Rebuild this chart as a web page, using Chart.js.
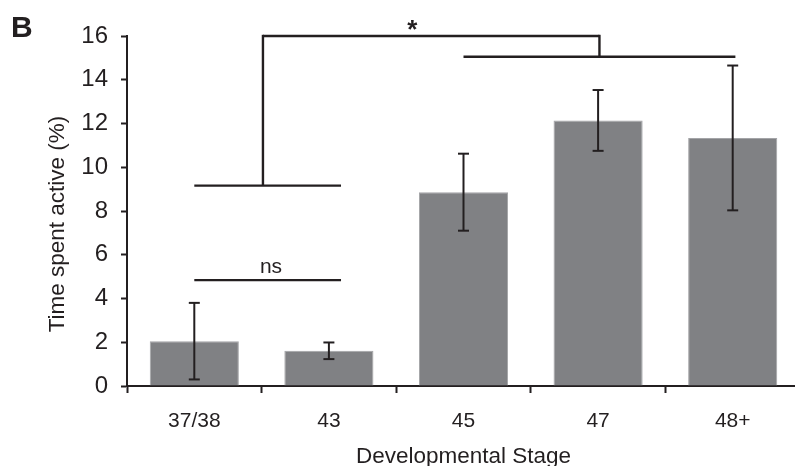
<!DOCTYPE html>
<html>
<head>
<meta charset="utf-8">
<script src="https://cdn.jsdelivr.net/npm/chart.js@4.4.1/dist/chart.umd.min.js"></script>
<style>
  html, body { margin: 0; padding: 0; overflow: hidden; background: #fff; }
</style>
</head>
<body>
<canvas id="activity-chart" width="800" height="466"></canvas>
<script>
// Time spent active per developmental stage (mean +/- error)
const stages = ['37/38', '43', '45', '47', '48+'];
const meanActive = [2.05, 1.61, 8.86, 12.14, 11.34];
const errActive = [1.75, 0.38, 1.76, 1.39, 3.31];
const yTicks = [0, 2, 4, 6, 8, 10, 12, 14, 16];

// significance brackets: [fromIndex, toIndex, level]
const nsLine = [0, 1.09, 4.84];
const earlyGroup = [0, 1.09, 9.16];
const lateGroup = [2, 4.02, 15.05];
const topBracket = [0.51, 3.01, 16];
const starLabel = [1.62, 16.45];
const nsLabel = [0.57, 5.45];

const INK = '#231f20';
const BAR = '#808184';
const FONT = '"Liberation Sans", Arial, sans-serif';

function seg(ctx, x1, y1, x2, y2) {
    ctx.beginPath();
    ctx.moveTo(x1, y1);
    ctx.lineTo(x2, y2);
    ctx.stroke();
}

const annotate = {
    id: 'annotate',
    afterDatasetsDraw(chart) {
        const { ctx, scales: { x, y } } = chart;
        ctx.save();
        ctx.strokeStyle = INK;
        ctx.lineWidth = 2;
        stages.forEach((s, i) => {
            const cx = x.getPixelForValue(i);
            const hi = y.getPixelForValue(meanActive[i] + errActive[i]);
            const lo = y.getPixelForValue(meanActive[i] - errActive[i]);
            seg(ctx, cx, hi, cx, lo);
            seg(ctx, cx - 5.5, hi, cx + 5.5, hi);
            seg(ctx, cx - 5.5, lo, cx + 5.5, lo);
        });
        ctx.restore();
    },
    afterDraw(chart) {
        const { ctx, scales: { x, y }, chartArea } = chart;
        ctx.save();
        ctx.strokeStyle = INK;
        ctx.lineWidth = 2.4;
        const hline = b => seg(ctx, x.getPixelForValue(b[0]), y.getPixelForValue(b[2]),
                                    x.getPixelForValue(b[1]), y.getPixelForValue(b[2]));
        hline(nsLine);
        hline(earlyGroup);
        hline(lateGroup);
        hline(topBracket);
        // drops from the top bracket to each group
        const tl = x.getPixelForValue(topBracket[0]);
        const tr = x.getPixelForValue(topBracket[1]);
        const ty = y.getPixelForValue(topBracket[2]);
        seg(ctx, tl, ty - 1.2, tl, y.getPixelForValue(earlyGroup[2]));
        seg(ctx, tr, ty - 1.2, tr, y.getPixelForValue(lateGroup[2]));

        ctx.fillStyle = INK;
        ctx.textAlign = 'center';
        ctx.textBaseline = 'middle';
        ctx.font = 'bold 26px ' + FONT;
        ctx.fillText('*', x.getPixelForValue(starLabel[0]), y.getPixelForValue(starLabel[1]) + 5);
        ctx.font = '21px ' + FONT;
        ctx.fillText('ns', x.getPixelForValue(nsLabel[0]), y.getPixelForValue(nsLabel[1]));

        // axis titles
        ctx.font = '22.5px ' + FONT;
        ctx.textBaseline = 'alphabetic';
        ctx.fillText('Developmental Stage', (chartArea.left + chartArea.right) / 2, 463);
        ctx.save();
        ctx.translate(64, 224);
        ctx.rotate(-Math.PI / 2);
        ctx.fillText('Time spent active (%)', 0, 0);
        ctx.restore();

        // panel letter
        ctx.font = 'bold 30px ' + FONT;
        ctx.textAlign = 'left';
        ctx.fillText('B', 11, 37);
        ctx.restore();
    },
};

new Chart(document.getElementById('activity-chart'), {
    type: 'bar',
    data: {
        labels: stages,
        datasets: [{
            label: 'Time spent active',
            data: meanActive,
            backgroundColor: BAR,
            borderColor: '#a3a4a7',
            borderWidth: 1,
            categoryPercentage: 1,
            barPercentage: 0.662,
        }],
    },
    options: {
        responsive: false,
        animation: false,
        devicePixelRatio: 1,
        layout: { padding: { top: 36, left: 0, right: 0, bottom: 0 } },
        plugins: {
            legend: { display: false },
            tooltip: { enabled: false },
        },
        scales: {
            x: {
                afterFit: s => { s.height = 80; },
                grid: {
                    offset: true,
                    drawOnChartArea: false,
                    tickLength: 7,
                    tickColor: INK,
                    tickWidth: 2,
                },
                border: { color: INK, width: 2 },
                ticks: {
                    color: INK,
                    padding: 16,
                    font: { size: 21, family: FONT },
                },
            },
            y: {
                min: 0,
                max: 16,
                afterFit: s => { s.width = 127; },
                afterBuildTicks: s => { s.ticks = yTicks.map(v => ({ value: v })); },
                grid: {
                    drawOnChartArea: false,
                    tickLength: 6,
                    tickColor: INK,
                    tickWidth: 2,
                },
                border: { color: INK, width: 2 },
                ticks: {
                    color: INK,
                    padding: 13,
                    font: { size: 24, family: FONT },
                },
            },
        },
    },
    plugins: [annotate],
});
</script>
</body>
</html>
